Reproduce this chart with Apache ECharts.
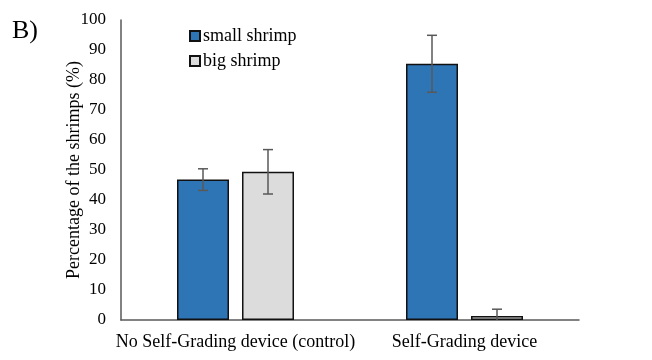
<!DOCTYPE html>
<html>
<head>
<meta charset="utf-8">
<script src="https://cdn.jsdelivr.net/npm/echarts@6/dist/echarts.min.js"></script>
<style>
html,body{margin:0;padding:0;background:#fff;}
#chart{width:652px;height:360px;}
</style>
</head>
<body>
<div id="chart"></div>
<script>
var categories = ['No Self-Grading device (control)', 'Self-Grading device'];
var seriesNames = ['small shrimp', 'big shrimp'];
var smallMean = [46.8, 85.4];
var smallErr = [3.6, 9.5];
var bigMean = [49.4, 1.3];
var bigErr = [7.4, 2.3];
var yTicks = [0, 10, 20, 30, 40, 50, 60, 70, 80, 90, 100];

var FONT = 'Liberation Serif';
var BAR_W = 52, GAP = 13;

function errData(mean, err) {
  return mean.map(function (m, i) { return [i, m - err[i], m + err[i]]; });
}
function errSeries(mean, err, idx) {
  var offset = (idx === 0 ? -1 : 1) * (BAR_W + GAP) / 2;
  return {
    type: 'custom',
    z: 10,
    silent: true,
    clip: true,
    data: errData(mean, err),
    renderItem: function (params, api) {
      var x = api.coord([api.value(0), 0])[0] + offset;
      var lo = api.coord([api.value(0), api.value(1)])[1];
      var hi = api.coord([api.value(0), api.value(2)])[1];
      var cap = 5;
      var st = { stroke: '#595959', lineWidth: 1.5 };
      return {
        type: 'group',
        children: [
          { type: 'line', shape: { x1: x, y1: lo, x2: x, y2: hi }, style: st },
          { type: 'line', shape: { x1: x - cap, y1: hi, x2: x + cap, y2: hi }, style: st },
          { type: 'line', shape: { x1: x - cap, y1: lo, x2: x + cap, y2: lo }, style: st }
        ]
      };
    }
  };
}

var chart = echarts.init(document.getElementById('chart'));
chart.setOption({
  backgroundColor: '#fff',
  animation: false,
  textStyle: { fontFamily: FONT },
  title: {
    text: 'B)', left: 7, top: 13,
    textStyle: { fontFamily: FONT, fontSize: 26, fontWeight: 'normal', color: '#000' }
  },
  legend: {
    orient: 'vertical', left: 184, top: 22, itemGap: 7,
    itemWidth: 10, itemHeight: 10, icon: 'rect',
    data: seriesNames,
    textStyle: { fontFamily: FONT, fontSize: 18, color: '#000', padding: [0, 0, 0, -2] }
  },
  grid: { left: 121, right: 73, top: 20, bottom: 40 },
  xAxis: {
    type: 'category', data: categories,
    axisLine: { lineStyle: { color: '#595959', width: 1.5 } },
    axisTick: { show: false },
    axisLabel: { fontFamily: FONT, fontSize: 18, color: '#000', margin: 13, interval: 0 }
  },
  yAxis: {
    type: 'value', min: 0, max: 100, interval: 10,
    name: 'Percentage of the shrimps (%)', nameLocation: 'middle', nameGap: 38,
    nameMoveOverlap: false,
    nameTextStyle: { fontFamily: FONT, fontSize: 18, color: '#000' },
    axisLine: { show: true, lineStyle: { color: '#595959', width: 1.5 } },
    axisTick: { show: false },
    splitLine: { show: false },
    axisLabel: { fontFamily: FONT, fontSize: 17, color: '#000', margin: 15,
      formatter: function (v) { return yTicks.indexOf(v) >= 0 ? String(v) : ''; } }
  },
  series: [
    { name: seriesNames[0], type: 'bar', data: smallMean, barWidth: BAR_W, barGap: (GAP / BAR_W * 100) + '%',
      itemStyle: { color: '#2E75B6', borderColor: '#111', borderWidth: 1.5 } },
    { name: seriesNames[1], type: 'bar', data: bigMean, barWidth: BAR_W,
      itemStyle: { color: '#DCDCDC', borderColor: '#111', borderWidth: 1.5 } },
    errSeries(smallMean, smallErr, 0),
    errSeries(bigMean, bigErr, 1)
  ]
});
</script>
</body>
</html>
